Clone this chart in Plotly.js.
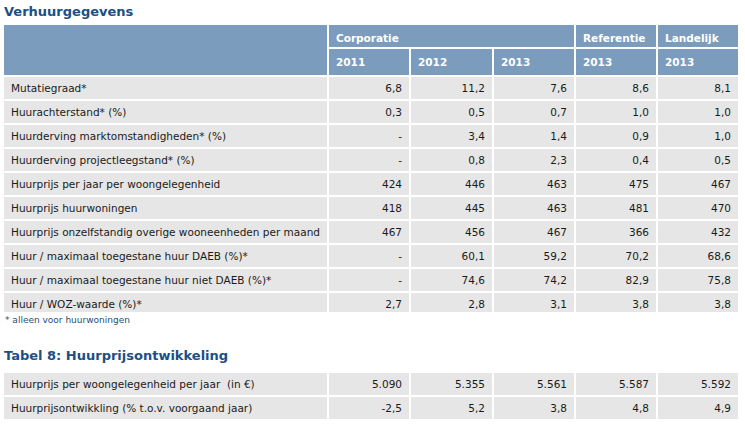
<!DOCTYPE html>
<html>
<head>
<meta charset="utf-8">
<script src="https://cdn.plot.ly/plotly-3.0.1.min.js"></script>
<style>html,body{margin:0;padding:0;background:#fff;}#chart{width:745px;height:425px;}</style>
</head>
<body>
<div id="chart"></div>
<script>
// ---- data ----
const groupHeaders = ['Corporatie', 'Referentie', 'Landelijk'];
const yearHeaders = ['2011', '2012', '2013', '2013', '2013'];
const rowLabels = [
  'Mutatiegraad*',
  'Huurachterstand* (%)',
  'Huurderving marktomstandigheden* (%)',
  'Huurderving projectleegstand* (%)',
  'Huurprijs per jaar per woongelegenheid',
  'Huurprijs huurwoningen',
  'Huurprijs onzelfstandig overige wooneenheden per maand',
  'Huur / maximaal toegestane huur DAEB (%)*',
  'Huur / maximaal toegestane huur niet DAEB (%)*',
  'Huur / WOZ-waarde (%)*'
];
const rowDecimals = [1, 1, 1, 1, 0, 0, 0, 1, 1, 1];
const corp2011 = [6.8, 0.3, null, null, 424, 418, 467, null, null, 2.7];
const corp2012 = [11.2, 0.5, 3.4, 0.8, 446, 445, 456, 60.1, 74.6, 2.8];
const corp2013 = [7.6, 0.7, 1.4, 2.3, 463, 463, 467, 59.2, 74.2, 3.1];
const ref2013  = [8.6, 1.0, 0.9, 0.4, 475, 481, 366, 70.2, 82.9, 3.8];
const land2013 = [8.1, 1.0, 1.0, 0.5, 467, 470, 432, 68.6, 75.8, 3.8];
const footnote = '* alleen voor huurwoningen';
const title1 = 'Verhuurgegevens';
const title2 = 'Tabel 8: Huurprijsontwikkeling';
const t8Labels = ['Huurprijs per woongelegenheid per jaar  (in €)', 'Huurprijsontwikkling (% t.o.v. voorgaand jaar)'];
const t8Decimals = [0, 1];
const t8Corp2011 = [5090, -2.5];
const t8Corp2012 = [5355, 5.2];
const t8Corp2013 = [5561, 3.8];
const t8Ref2013  = [5587, 4.8];
const t8Land2013 = [5592, 4.9];

// ---- formatting ----
function fmt(v, d) {
  if (v === null || v === undefined) return '-';
  const neg = v < 0;
  let s = Math.abs(v).toFixed(d);
  let [ip, dp] = s.split('.');
  ip = ip.replace(/\B(?=(\d{3})+(?!\d))/g, '.');
  return (neg ? '-' : '') + ip + (dp ? ',' + dp : '');
}
function col(arr, decs) { return arr.map((v, i) => fmt(v, decs[i])); }
const nb = s => s.replace(/ /g, '\u00a0');

// ---- geometry (pixels) ----
const W = 745, H = 425;
const px = x => x / W;
const py = y => 1 - y / H;
const colEdges = [3, 328, 410, 493, 575, 657, 739];
const widths = colEdges.slice(1).map((e, i) => e - colEdges[i]);
const BLUE = '#7b9cbc';
const GRAY = '#e6e6e6';
const FONT = 'DejaVu Sans, Verdana, sans-serif';
const FS = 10.5;
const rowH = 24;
const ALIGN = ['left', 'right', 'right', 'right', 'right', 'right'];

const dataTrace = {
  type: 'table',
  domain: {x: [px(3), px(739)], y: [py(312), py(48)]},
  columnwidth: widths,
  header: {
    values: [''].concat(yearHeaders.map(t => '<b>' + t + '</b>')),
    height: rowH,
    align: 'left',
    fill: {color: BLUE},
    line: {color: '#ffffff', width: 2},
    font: {family: FONT, size: FS, color: '#ffffff'}
  },
  cells: {
    values: [rowLabels.map(nb),
      col(corp2011, rowDecimals), col(corp2012, rowDecimals), col(corp2013, rowDecimals),
      col(ref2013, rowDecimals), col(land2013, rowDecimals)],
    height: rowH,
    align: ALIGN,
    fill: {color: GRAY},
    line: {color: '#ffffff', width: 2},
    font: {family: FONT, size: FS, color: '#1a1a1a'}
  }
};

const groupTrace = {
  type: 'table',
  domain: {x: [px(328), px(739)], y: [py(48), py(24)]},
  columnwidth: [colEdges[4] - colEdges[1], widths[4], widths[5]],
  header: {
    values: groupHeaders.map(t => '<b>' + t + '</b>'),
    height: rowH,
    align: 'left',
    fill: {color: BLUE},
    line: {color: '#ffffff', width: 2},
    font: {family: FONT, size: FS, color: '#ffffff'}
  },
  cells: {values: [[], [], []]}
};

const cornerTrace = {
  type: 'table',
  domain: {x: [px(3), px(328)], y: [py(72), py(24)]},
  header: {
    values: [''],
    height: 2 * rowH,
    fill: {color: BLUE},
    line: {color: '#ffffff', width: 2}
  },
  cells: {values: [[]]}
};

const t8Cols = [t8Labels.map(nb),
  col(t8Corp2011, t8Decimals), col(t8Corp2012, t8Decimals), col(t8Corp2013, t8Decimals),
  col(t8Ref2013, t8Decimals), col(t8Land2013, t8Decimals)];

const t8Trace = {
  type: 'table',
  domain: {x: [px(3), px(739)], y: [py(420), py(372)]},
  columnwidth: widths,
  header: {
    values: t8Cols.map(c => c[0]),
    height: rowH,
    align: ALIGN,
    fill: {color: GRAY},
    line: {color: '#ffffff', width: 2},
    font: {family: FONT, size: FS, color: '#1a1a1a'}
  },
  cells: {
    values: t8Cols.map(c => c.slice(1)),
    height: rowH,
    align: ALIGN,
    fill: {color: GRAY},
    line: {color: '#ffffff', width: 2},
    font: {family: FONT, size: FS, color: '#1a1a1a'}
  }
};

const layout = {
  width: W, height: H,
  margin: {l: 0, r: 0, t: 0, b: 0},
  paper_bgcolor: '#ffffff',
  showlegend: false,
  font: {family: FONT},
  annotations: [
    {text: '<b>' + title1 + '</b>', xref: 'paper', yref: 'paper', x: px(2), y: py(12),
     xanchor: 'left', yanchor: 'middle', showarrow: false,
     font: {family: FONT, size: 13, color: '#1b4f85'}},
    {text: footnote, xref: 'paper', yref: 'paper', x: px(3), y: py(320),
     xanchor: 'left', yanchor: 'middle', showarrow: false,
     font: {family: FONT, size: 9, color: '#1f4e79'}},
    {text: '<b>' + title2 + '</b>', xref: 'paper', yref: 'paper', x: px(2), y: py(355),
     xanchor: 'left', yanchor: 'middle', showarrow: false,
     font: {family: FONT, size: 13, color: '#1b4f85'}}
  ]
};

Plotly.newPlot('chart', [dataTrace, groupTrace, cornerTrace, t8Trace], layout, {displayModeBar: false, staticPlot: true});
</script>
</body>
</html>
